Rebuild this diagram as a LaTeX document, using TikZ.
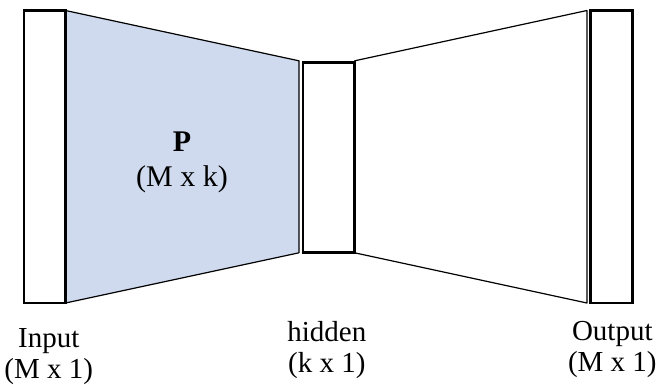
\documentclass[tikz,border=0pt]{standalone}
\usepackage{fontspec}
\setmainfont{Liberation Serif}
\usetikzlibrary{positioning,backgrounds}
\definecolor{wblue}{RGB}{207,218,238}

\begin{document}
\begin{tikzpicture}[x=1pt,y=-1pt,
	layer/.style={draw, line width=2.7pt, inner sep=0pt, outer sep=0pt},
	weights/.style={draw, fill=#1, line width=1.2pt, line join=round},
	lbl/.style={font=\fontsize{29}{31}\selectfont, align=center, inner sep=0pt}]
	\useasboundingbox (0,0) rectangle (660,384);
	% layers
	\node[layer, minimum width=41.5pt, minimum height=292.5pt] (in) at (44.75,156.75) {};
	\node[layer, minimum width=51.7pt, minimum height=190pt] (hid) at (328.8,157.8) {};
	\node[layer, minimum width=41.7pt, minimum height=292.5pt] (out) at (611.3,156.75) {};
	% weight blocks
	\begin{scope}[on background layer]
		\draw[weights=wblue] (in.north east) -- ([xshift=-4pt,yshift=2pt]hid.north west)
			-- ([xshift=-4pt]hid.south west) -- (in.south east) -- cycle;
		\draw[weights=white] ([yshift=2pt]hid.north east) -- ([xshift=-3.5pt]out.north west)
			-- ([xshift=-3.5pt]out.south west) -- (hid.south east) -- cycle;
	\end{scope}
	\node[lbl, anchor=north, font=\fontsize{30}{35}\selectfont] (pl) at (182,132) {\textbf{P}\\(M x k)};
	% labels
	\node[lbl, below=25pt of in, xshift=4pt] (inl) {Input\\(M x 1)};
	\node[lbl, below=68pt of hid, xshift=-2pt] (hidl) {hidden\\(k x 1)};
	\node[lbl, below=18pt of out, xshift=1pt] (outl) {Output\\(M x 1)};
\end{tikzpicture}
\end{document}
